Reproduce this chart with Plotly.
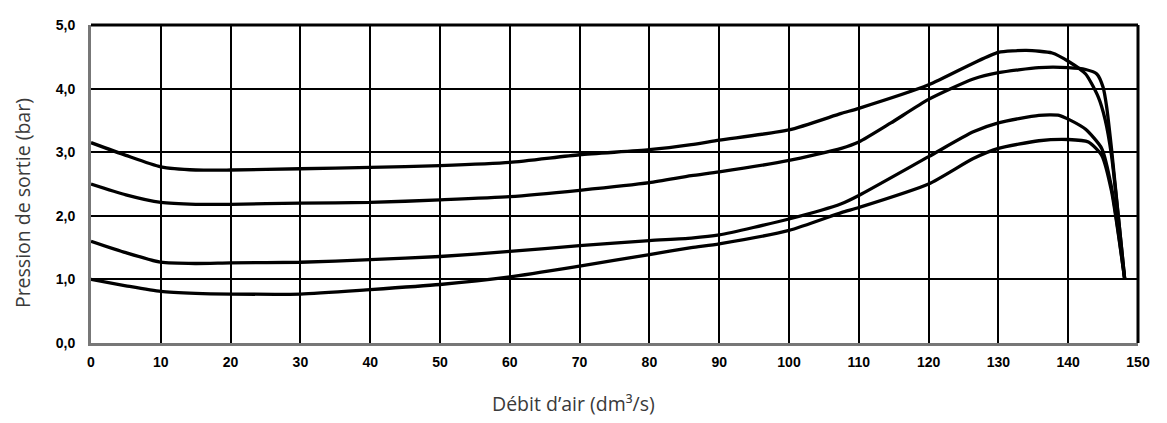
import plotly.graph_objects as go

# Débit d'air (dm3/s) and Pression de sortie (bar) for four curves
x1 = [0, 5, 10, 15, 20, 30, 40, 50, 60, 70, 80, 86, 90, 100, 107.5, 110, 120, 126.4, 130, 134, 137.7, 140, 142.5, 144.3, 145.3, 146.2, 148.1]
y1 = [3.15, 2.95, 2.77, 2.72, 2.72, 2.74, 2.76, 2.79, 2.84, 2.96, 3.04, 3.12, 3.19, 3.35, 3.61, 3.69, 4.06, 4.40, 4.57, 4.60, 4.56, 4.43, 4.23, 3.87, 3.51, 2.95, 1.0]

x2 = [0, 5, 10, 15, 20, 30, 40, 50, 60, 70, 80, 86, 90, 100, 107.5, 110, 114.6, 120, 126.4, 130, 135.8, 140, 142.5, 144.1, 145, 145.5, 146.2, 148.1]
y2 = [2.50, 2.33, 2.21, 2.18, 2.18, 2.20, 2.21, 2.25, 2.30, 2.40, 2.52, 2.63, 2.69, 2.87, 3.06, 3.16, 3.46, 3.83, 4.15, 4.25, 4.33, 4.33, 4.30, 4.23, 4.02, 3.72, 3.06, 1.0]

x3 = [0, 5, 10, 15, 20, 30, 40, 50, 60, 70, 80, 86, 90, 100, 107.5, 110, 120, 126.4, 130, 135.8, 138.7, 140, 142.5, 144.8, 146.2, 148.1]
y3 = [1.60, 1.42, 1.27, 1.25, 1.26, 1.27, 1.31, 1.36, 1.44, 1.53, 1.61, 1.65, 1.70, 1.95, 2.19, 2.32, 2.93, 3.32, 3.46, 3.58, 3.58, 3.52, 3.36, 3.06, 2.45, 1.0]

x4 = [0, 5, 10, 15, 20, 30, 40, 50, 60, 70, 80, 86, 90, 100, 107.5, 110, 120, 126.4, 130, 135.8, 140, 142.9, 144.8, 146.2, 148.1]
y4 = [1.00, 0.90, 0.81, 0.78, 0.77, 0.77, 0.84, 0.92, 1.04, 1.21, 1.39, 1.50, 1.56, 1.77, 2.05, 2.13, 2.50, 2.90, 3.06, 3.18, 3.20, 3.16, 2.95, 2.39, 1.0]

x_ticks = list(range(0, 151, 10))
y_ticks = [0, 1, 2, 3, 4, 5]
y_labels = ["0,0", "1,0", "2,0", "3,0", "4,0", "5,0"]
x_title = "Débit d’air (dm³/s)"
y_title = "Pression de sortie (bar)"

fig = go.Figure()
for xs, ys in [(x1, y1), (x2, y2), (x3, y3), (x4, y4)]:
    fig.add_trace(go.Scatter(x=xs, y=ys, mode="lines",
                             line=dict(color="black", width=3.3, shape="spline", smoothing=0.6),
                             showlegend=False, hoverinfo="skip"))

tickfont = dict(family="Liberation Sans, Arial, sans-serif", size=14, color="black", weight="bold")
titlefont = dict(family="Open Sans, sans-serif", size=19.5, color="#3a3a3a")

fig.update_xaxes(range=[0, 150], tickvals=x_ticks, ticktext=[str(v) for v in x_ticks],
                 showgrid=True, gridcolor="black", gridwidth=1.7,
                 showline=True, linecolor="#777777", linewidth=3,
                 zeroline=False, ticks="", tickfont=tickfont, ticklabelstandoff=4,
                 ticklabeloverflow="allow")
fig.update_yaxes(range=[0, 5], tickvals=y_ticks, ticktext=y_labels,
                 showgrid=True, gridcolor="black", gridwidth=1.7,
                 showline=True, linecolor="#777777", linewidth=3,
                 zeroline=False, ticks="", tickfont=tickfont, ticklabelstandoff=10,
                 ticklabeloverflow="allow")

# top and right frame lines
fig.add_shape(type="line", xref="paper", yref="paper", x0=0, x1=1, y0=1, y1=1,
              line=dict(color="black", width=3))
fig.add_shape(type="line", xref="paper", yref="paper", x0=1, x1=1, y0=0, y1=1,
              line=dict(color="black", width=3))

fig.add_annotation(text=x_title, xref="paper", yref="paper", x=0.461, y=0,
                   xanchor="center", yanchor="middle", yshift=-60, showarrow=False, font=titlefont)
fig.add_annotation(text=y_title, xref="paper", yref="paper", x=0, y=0.44, textangle=-90,
                   xanchor="center", yanchor="middle", xshift=-69, showarrow=False, font=titlefont)

# the page keeps its default 8px body margin; the figure fills the rest of the 1167x423 window
fig.update_layout(width=1151, height=407, margin=dict(l=83, r=13, t=9, b=72),
                  plot_bgcolor="white", paper_bgcolor="white")

fig.write_html("out.html", config={"displayModeBar": False})
